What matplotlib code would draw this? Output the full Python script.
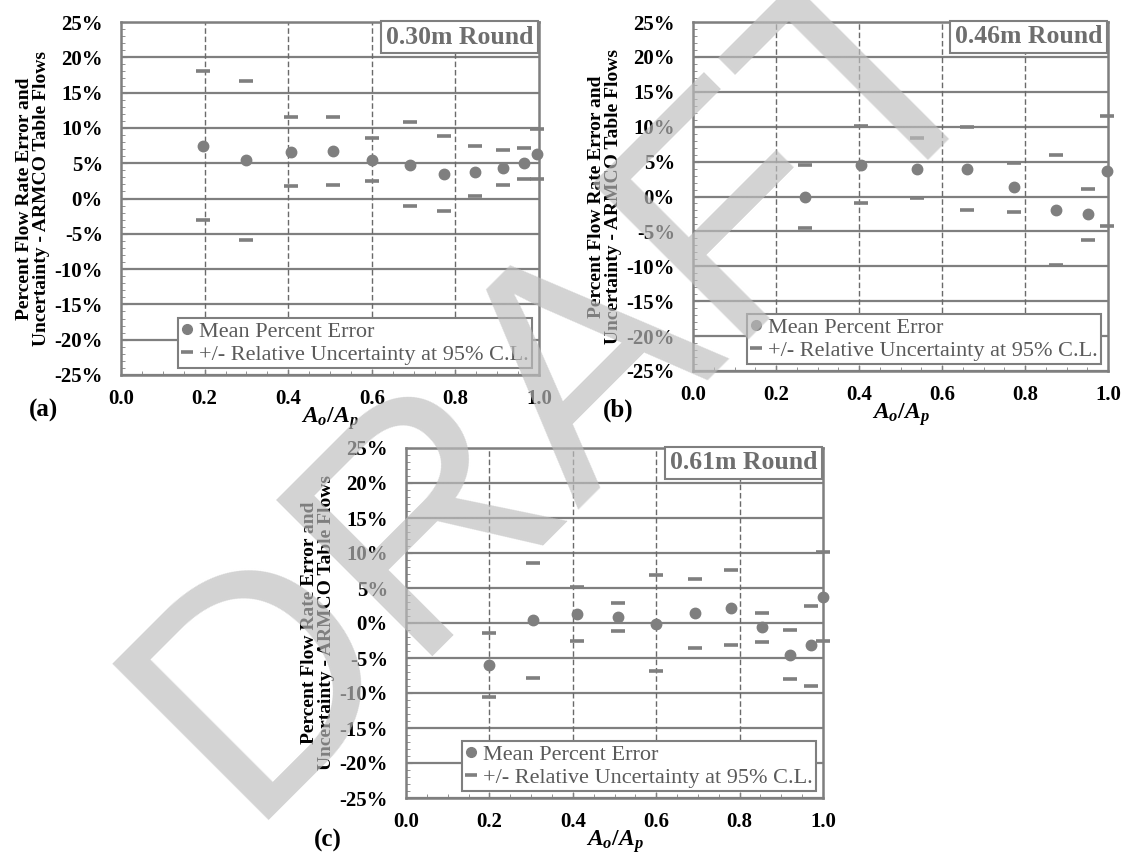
import matplotlib.pyplot as plt
from matplotlib.ticker import MultipleLocator, FixedLocator
from matplotlib.lines import Line2D

plt.rcParams['font.family'] = 'Liberation Serif'
plt.rcParams['mathtext.fontset'] = 'custom'
plt.rcParams['mathtext.rm'] = 'Liberation Serif:bold'
plt.rcParams['mathtext.it'] = 'Liberation Serif:italic:bold'
plt.rcParams['mathtext.bf'] = 'Liberation Serif:bold'

# (a) 0.30m Round
a_ratio = [0.196, 0.300, 0.407, 0.506, 0.601, 0.692, 0.773, 0.848, 0.913, 0.964, 0.995]
a_mean = [7.5, 5.4, 6.6, 6.7, 5.4, 4.8, 3.5, 3.8, 4.3, 5.0, 6.3]
a_upper = [18.1, 16.7, 11.5, 11.5, 8.5, 10.8, 8.9, 7.5, 6.9, 7.2, 9.8]
a_lower = [-3.1, -5.9, 1.7, 1.9, 2.5, -1.0, -1.8, 0.4, 1.9, 2.8, 2.8]

# (b) 0.46m Round
b_ratio = [0.269, 0.404, 0.539, 0.661, 0.774, 0.874, 0.952, 0.998]
b_mean = [0.0, 4.5, 3.9, 3.9, 1.3, -1.9, -2.5, 3.6]
b_upper = [4.5, 10.1, 8.4, 9.9, 4.8, 6.0, 1.1, 11.6]
b_lower = [-4.5, -1.0, -0.2, -1.9, -2.2, -9.8, -6.2, -4.2]

# (c) 0.61m Round
c_ratio = [0.199, 0.305, 0.409, 0.508, 0.599, 0.694, 0.779, 0.854, 0.920, 0.971, 1.0]
c_mean = [-6.0, 0.5, 1.3, 0.9, -0.1, 1.4, 2.1, -0.6, -4.5, -3.2, 3.7]
c_upper = [-1.4, 8.6, 5.2, 2.9, 6.8, 6.3, 7.6, 1.5, -1.0, 2.4, 10.1]
c_lower = [-10.6, -7.9, -2.5, -1.2, -6.8, -3.5, -3.2, -2.7, -8.0, -9.0, -2.6]

y_ticks = [25, 20, 15, 10, 5, 0, -5, -10, -15, -20, -25]
x_ticks = [0.0, 0.2, 0.4, 0.6, 0.8, 1.0]

gray = '#7f7f7f'
W, H = 1127, 859

fig = plt.figure(figsize=(W / 100, H / 100), dpi=100)


def panel(rect, ratio, mean, upper, lower, title, tag, tag_xy):
    l, t, r, b = rect
    ax = fig.add_axes([l / W, 1 - b / H, (r - l) / W, (b - t) / H])
    ax.set_xlim(0, 1)
    ax.set_ylim(-25, 25)

    for v in y_ticks:
        ax.axhline(v, color=gray, lw=1.6, zorder=1)
    for v in [0.2, 0.4, 0.6, 0.8]:
        ax.axvline(v, color='#6a6a6a', lw=1.0, ls=(0, (4, 2)), zorder=1)

    ax.plot(ratio, upper, ls='none', marker='_', ms=10, mew=2.6,
            color=gray, clip_on=False, zorder=3)
    ax.plot(ratio, lower, ls='none', marker='_', ms=10, mew=2.6,
            color=gray, clip_on=False, zorder=3)
    ax.plot(ratio, mean, ls='none', marker='o', ms=7.5,
            color=gray, clip_on=False, zorder=4)

    ax.yaxis.set_major_locator(FixedLocator(y_ticks))
    ax.set_yticklabels([f'{v}%' for v in y_ticks])
    ax.yaxis.set_minor_locator(MultipleLocator(1))
    ax.xaxis.set_major_locator(FixedLocator(x_ticks))
    ax.set_xticklabels([f'{v:.1f}' for v in x_ticks])
    ax.xaxis.set_minor_locator(MultipleLocator(0.05))
    ax.tick_params(which='major', direction='in', length=4, color=gray,
                   labelsize=15)
    ax.tick_params(which='minor', direction='in', length=3, color=gray)
    ax.tick_params(axis='y', which='major', pad=13)
    ax.tick_params(axis='x', which='major', pad=10)
    for lab in ax.get_xticklabels() + ax.get_yticklabels():
        lab.set_fontweight('bold')

    for s in ax.spines.values():
        s.set_color(gray)
        s.set_linewidth(1.8)

    ax.set_ylabel('Percent Flow Rate Error and\nUncertainty - ARMCO Table Flows',
                  fontsize=14, fontweight='bold', labelpad=3, linespacing=1.05)
    ax.set_xlabel('$A_o/A_p$', fontsize=17, labelpad=-3)

    ax.text(0.986, 0.99, title, transform=ax.transAxes, ha='right', va='top',
            fontsize=18.5, fontweight='bold', color='#6e6e6e', zorder=5,
            bbox=dict(boxstyle='square,pad=0.17', fc='white', ec=gray, lw=1.5))

    handles = [
        Line2D([], [], ls='none', marker='o', ms=7, color=gray),
        Line2D([], [], ls='none', marker='_', ms=9, mew=2.6, color=gray),
    ]
    leg = ax.legend(handles, ['Mean Percent Error',
                              '+/- Relative Uncertainty at 95% C.L.'],
                    loc='lower right', fontsize=16, frameon=True, fancybox=False,
                    edgecolor=gray, framealpha=1, handlelength=0.5,
                    handletextpad=0.3, borderpad=0.15, labelspacing=0.1,
                    borderaxespad=0.3)
    leg.get_frame().set_linewidth(1.5)
    for txt in leg.get_texts():
        txt.set_color('#5a5a5a')
    leg.set_zorder(6)

    fig.text(tag_xy[0] / W, 1 - tag_xy[1] / H, tag, ha='center', va='center',
             fontsize=18, fontweight='bold')
    return ax


panel((121, 22, 539, 375), a_ratio, a_mean, a_upper, a_lower,
      '0.30m Round', '(a)', (44, 410))
panel((693, 22, 1108, 371), b_ratio, b_mean, b_upper, b_lower,
      '0.46m Round', '(b)', (618, 410))
panel((406, 448, 823, 798), c_ratio, c_mean, c_upper, c_lower,
      '0.61m Round', '(c)', (328, 840))

# watermark
fig.text(243 / W, 1 - 820 / H, 'DRAFT', rotation=45, rotation_mode='anchor',
         ha='left', va='baseline', fontsize=232, family='Liberation Sans',
         color='#bebebe', alpha=0.675, zorder=10)

fig.savefig('out.png', dpi=100)
